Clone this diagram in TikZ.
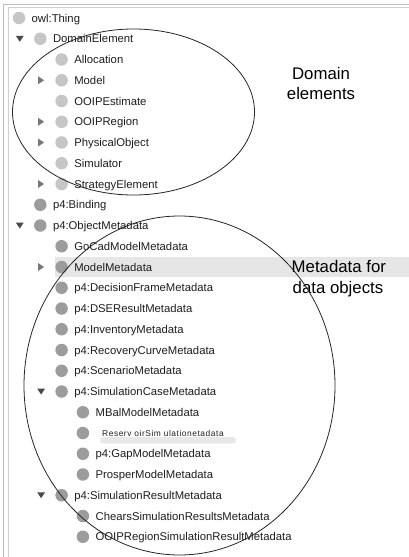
\documentclass[tikz,border=0pt]{standalone}
\usepackage{fontspec}
\setmainfont{Liberation Sans}
\definecolor{dotlight}{HTML}{C6C6C6}
\definecolor{dotdark}{HTML}{9C9C9C}
\definecolor{hl}{HTML}{E6E6E6}
\definecolor{framea}{HTML}{BDBDBD}
\definecolor{frameb}{HTML}{CFCFCF}
\definecolor{tridown}{HTML}{4A4A4A}
\definecolor{triright}{HTML}{777777}
\definecolor{txt}{HTML}{1E1E1E}
\definecolor{smudge}{HTML}{E8E8E8}
\begin{document}
\begin{tikzpicture}[x=1pt,y=-1pt,
  rowtext/.style={anchor=base west,inner sep=0pt,text=txt,font=\fontsize{11.3}{12}\selectfont},
  dotA/.style={circle,fill=dotlight,minimum size=12.5pt,inner sep=0pt,outer sep=0pt},
  dotB/.style={circle,fill=dotdark,minimum size=12.5pt,inner sep=0pt,outer sep=0pt},
  bigtext/.style={inner sep=0pt,text=black,font=\fontsize{16.8}{20}\selectfont},
  ring/.style={draw=black!85,line width=0.8pt},
  framelineA/.style={draw=framea,line width=0.9pt},
  framelineB/.style={draw=frameb,line width=0.9pt}]
\useasboundingbox (0,0) rectangle (409,557);
\fill[white] (0,0) rectangle (409,557);
% frame
\draw[framelineA] (3.5,557) -- (3.5,4.5) -- (409,4.5);
\draw[framelineB] (8.5,557) -- (8.5,7.5) -- (409,7.5);
% highlight of selected row
\fill[hl] (55,257) rectangle (409,277);
% rows: index / level / dot style / triangle (0 none, 1 down, 2 right) / text
\foreach \i/\l/\d/\t/\s in {
 0/0/dotA/0/{owl:Thing},
 1/1/dotA/1/{DomainElement},
 2/2/dotA/0/{Allocation},
 3/2/dotA/2/{Model},
 4/2/dotA/0/{OOIPEstimate},
 5/2/dotA/2/{OOIPRegion},
 6/2/dotA/2/{PhysicalObject},
 7/2/dotA/0/{Simulator},
 8/2/dotA/2/{StrategyElement},
 9/1/dotB/0/{p4:Binding},
 10/1/dotB/1/{p4:ObjectMetadata},
 11/2/dotB/0/{GoCadModelMetadata},
 12/2/dotB/2/{ModelMetadata},
 13/2/dotB/0/{p4:DecisionFrameMetadata},
 14/2/dotB/0/{p4:DSEResultMetadata},
 15/2/dotB/0/{p4:InventoryMetadata},
 16/2/dotB/0/{p4:RecoveryCurveMetadata},
 17/2/dotB/0/{p4:ScenarioMetadata},
 18/2/dotB/1/{p4:SimulationCaseMetadata},
 19/3/dotB/0/{MBalModelMetadata},
 20/3/dotB/0/{},
 21/3/dotB/0/{p4:GapModelMetadata},
 22/3/dotB/0/{ProsperModelMetadata},
 23/2/dotB/1/{p4:SimulationResultMetadata},
 24/3/dotB/0/{ChearsSimulationResultsMetadata},
 25/3/dotB/0/{OOIPRegionSimulationResultMetadata}} {
  \pgfmathsetmacro{\yy}{18+20.75*\i}
  \pgfmathsetmacro{\xx}{19+21.3*\l}
  \node[\d] (dot\i) at (\xx,\yy) {};
  \node[rowtext] (row\i) at (\xx+12.5,\yy+4) {\s};
  \ifnum\t=1
    \fill[tridown] (\xx-24.5,\yy-3) -- (\xx-16.5,\yy-3) -- (\xx-20.5,\yy+3) -- cycle;
  \fi
  \ifnum\t=2
    \fill[triright] (\xx-23.5,\yy-4) -- (\xx-17.5,\yy) -- (\xx-23.5,\yy+4) -- cycle;
  \fi
}
% the garbled row, with its grey smudge below
\fill[smudge,rounded corners=3pt] (100,437) rectangle (236,443.5);
\node[anchor=base west,inner sep=0pt,text=txt,font=\fontsize{8.4}{9}\selectfont\addfontfeature{LetterSpace=6.5}] (row20t) at (102,436.7) {Reserv oirSim ulationetadata};
% labels
\node[bigtext,anchor=base] (dom1) at (321,79) {Domain};
\node[bigtext,anchor=base] (dom2) at (321,99) {elements};
\node[bigtext,anchor=base west] (meta1) at (291.5,272.7) {Metadata for};
\node[bigtext,anchor=base west] (meta2) at (292.5,293) {data objects};
% ellipses
\draw[ring] (133.5,112) ellipse [x radius=121pt, y radius=83pt];
\draw[ring] (179.5,385.5) ellipse [x radius=155.5pt, y radius=169.5pt];
\end{tikzpicture}
\end{document}
